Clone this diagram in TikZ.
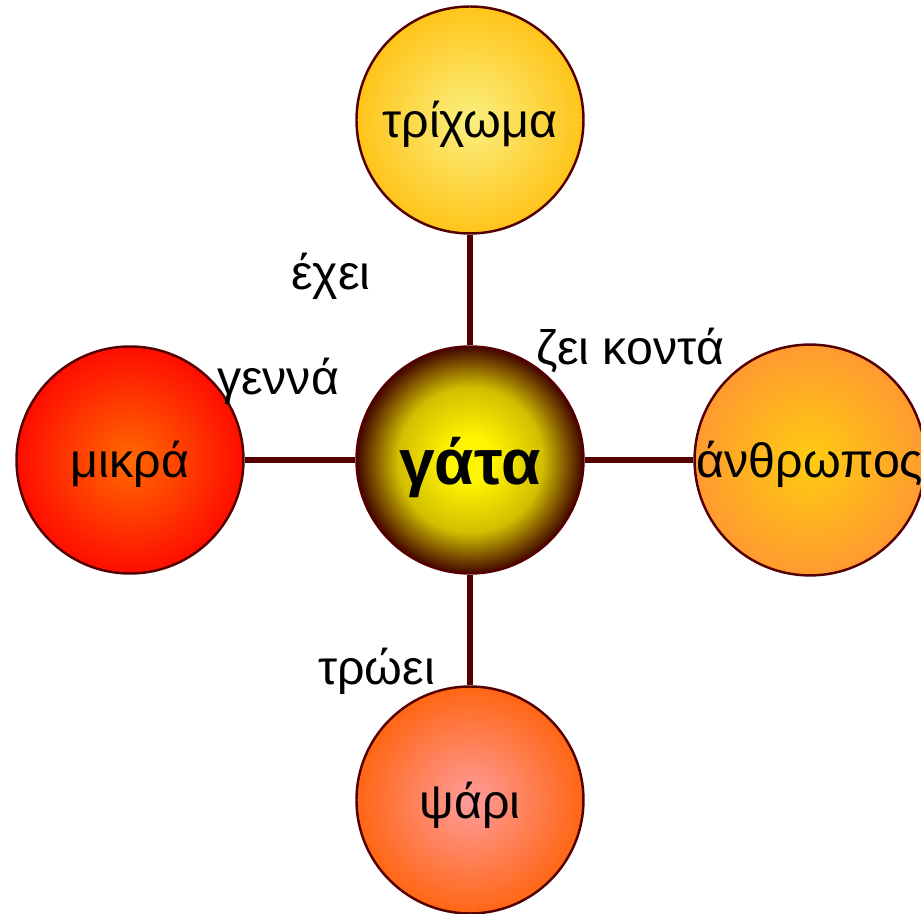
\documentclass[tikz,border=0pt]{standalone}
\usepackage{fontspec}
\setmainfont{Liberation Sans}
\definecolor{linkbrown}{HTML}{550000}
\definecolor{gataC}{HTML}{FFF500}
\definecolor{gataM}{HTML}{D2BE00}
\definecolor{gataE}{HTML}{420600}
\definecolor{trichC}{HTML}{FAF080}
\definecolor{trichE}{HTML}{FFC41A}
\definecolor{mikraC}{HTML}{FF6A00}
\definecolor{mikraE}{HTML}{FF0D00}
\definecolor{anthrC}{HTML}{FFCC10}
\definecolor{anthrE}{HTML}{FF9A30}
\definecolor{psariC}{HTML}{FF9C9C}
\definecolor{psariE}{HTML}{FF6614}
\pgfdeclareradialshading{shgata}{\pgfpoint{0bp}{0bp}}{color(0bp)=(gataC); color(5bp)=(gataC); color(16bp)=(gataM); color(25bp)=(gataE); color(50bp)=(gataE)}
\pgfdeclareradialshading{shtrich}{\pgfpoint{0bp}{0bp}}{color(0bp)=(trichC); color(25bp)=(trichE); color(50bp)=(trichE)}
\pgfdeclareradialshading{shmikra}{\pgfpoint{0bp}{0bp}}{color(0bp)=(mikraC); color(25bp)=(mikraE); color(50bp)=(mikraE)}
\pgfdeclareradialshading{shanthr}{\pgfpoint{0bp}{0bp}}{color(0bp)=(anthrC); color(25bp)=(anthrE); color(50bp)=(anthrE)}
\pgfdeclareradialshading{shpsari}{\pgfpoint{0bp}{0bp}}{color(0bp)=(psariC); color(25bp)=(psariE); color(50bp)=(psariE)}
\begin{document}
\begin{tikzpicture}[
    ball/.style={circle, shade, draw=linkbrown, line width=1.4pt, minimum size=4.54cm, inner sep=0pt, text height=0.82cm, text depth=0.1cm, font=\fontsize{27.5}{32}\selectfont},
    link/.style={draw=linkbrown, line width=3.7pt},
    verb/.style={anchor=base, font=\fontsize{27.5}{32}\selectfont}]
    \useasboundingbox (-9.4,-9.08) rectangle (9.02,9.2);
    \node[ball, shading=shgata, text height=1.1cm, font=\fontsize{36.5}{42}\selectfont\bfseries] (gata) at (0,0) {γάτα}; %% centre
    \node[ball, shading=shtrich] (trichoma) at (0,6.8) {τρίχωμα};
    \node[ball, shading=shmikra] (mikra) at (-6.8,0) {μικρά};
    \node[ball, shading=shanthr] (anthropos) at (6.8,0) {άνθρωπος};
    \node[ball, shading=shpsari] (psari) at (0,-6.8) {ψάρι};
    \draw[link] (gata) -- (trichoma);
    \draw[link] (gata) -- (mikra);
    \draw[link] (gata) -- (anthropos);
    \draw[link] (gata) -- (psari);
    \node[verb] (echei) at (-2.78,3.4) {έχει};
    \node[verb] (genna) at (-3.84,1.3) {γεννά};
    \node[verb] (zei) at (3.2,1.9) {ζει κοντά};
    \node[verb] (troei) at (-1.87,-4.5) {τρώει};
\end{tikzpicture}
\end{document}
